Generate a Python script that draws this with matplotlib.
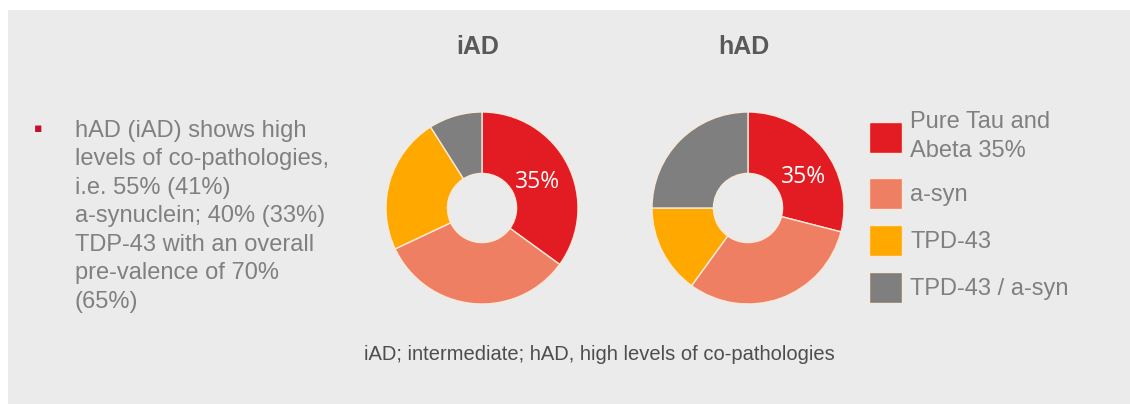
import matplotlib.pyplot as plt
from matplotlib.patches import Rectangle

plt.rcParams['font.family'] = ['Liberation Sans', 'DejaVu Sans']

W, H = 1130, 404

categories = ['Pure Tau and\nAbeta 35%', 'a-syn', 'TPD-43', 'TPD-43 / a-syn']
colors = ['#e31b23', '#ef7f62', '#fea800', '#7f7f7f']
iad_values = [35, 33, 23, 9]
had_values = [29, 31, 15, 25]
groups = ['iAD', 'hAD']
centre_label = '35%'
side_text = ('hAD (iAD) shows high\nlevels of co-pathologies,\ni.e. 55% (41%)\n'
             'a-synuclein; 40% (33%)\nTDP-43 with an overall\npre-valence of 70%\n(65%)')
footer = 'iAD; intermediate; hAD, high levels of co-pathologies'

fig = plt.figure(figsize=(W / 100, H / 100), dpi=100, facecolor='white')

# grey slide panel
fig.patches.append(Rectangle((8 / W, 0), 1, 1 - 10 / H, transform=fig.transFigure,
                             facecolor='#ebebeb', edgecolor='none', zorder=-10))


def px_axes(cx, cy, r):
    return fig.add_axes([(cx - r) / W, (H - cy - r) / H, 2 * r / W, 2 * r / H])


wedges = None
for name, vals, cx, lx, ly in [(groups[0], iad_values, 482, 537, 182),
                               (groups[1], had_values, 748, 803, 177)]:
    ax = px_axes(cx, 208, 96)
    wedges, _ = ax.pie(vals, colors=colors, startangle=90, counterclock=False,
                       radius=1, wedgeprops=dict(width=0.64, edgecolor='#fbe9d8', linewidth=1))
    ax.set_xlim(-1, 1)
    ax.set_ylim(-1, 1)
    ax.axis('off')
    fig.text(lx / W, 1 - ly / H, centre_label, color='white', fontsize=16.5,
             ha='center', va='center', family=['Open Sans', 'DejaVu Sans'])
    fig.text((cx - 4) / W, 1 - 47 / H, name, color='#595959', fontsize=18,
             fontweight='bold', ha='center', va='center')

# left bullet text
fig.text(38 / W, 1 - 129 / H, '\u25aa', color='#c0102a', fontsize=9,
         ha='center', va='center', family='DejaVu Sans')
fig.text(75 / W, 1 - 120 / H, side_text, color='#808080', fontsize=17,
         ha='left', va='top', linespacing=1.38)

fig.text(599 / W, 1 - 354 / H, footer, color='#4d4d4d', fontsize=14.5,
         ha='center', va='center')

leg = fig.legend(wedges, categories, loc='upper left', bbox_to_anchor=(869 / W, 1 - 111 / H),
                 frameon=False, fontsize=17, handlelength=1.4, handleheight=1.65,
                 labelspacing=0.68, handletextpad=0.34, labelcolor='#808080',
                 borderaxespad=0, borderpad=0)
leg.get_texts()[0].set_linespacing(1.4)

fig.savefig('out.png', dpi=100, facecolor='white')
